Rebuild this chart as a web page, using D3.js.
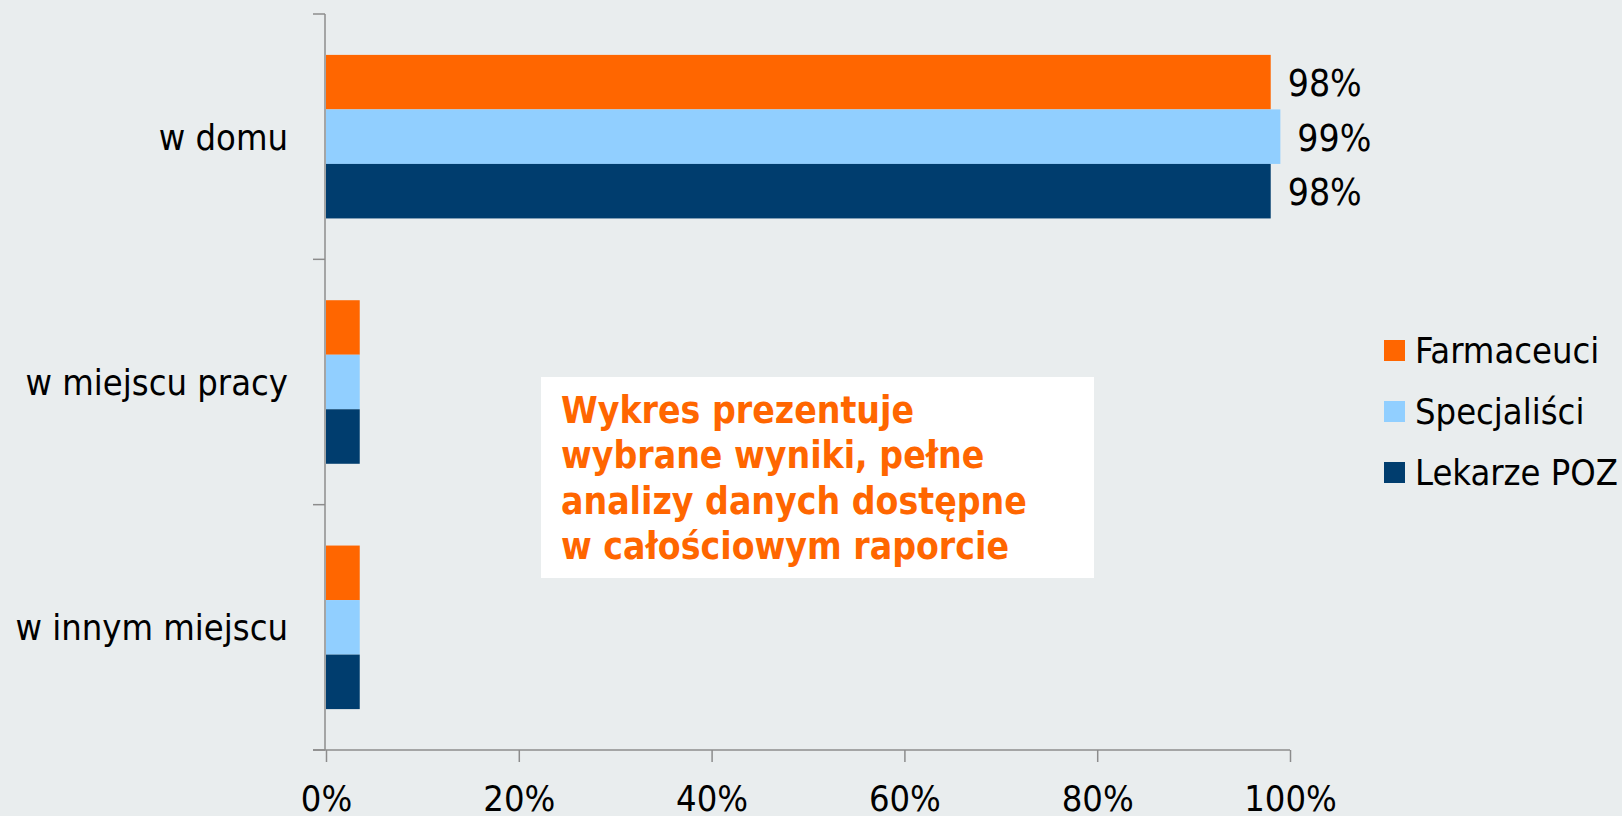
<!DOCTYPE html>
<html><head><meta charset="utf-8">
<script src="https://cdn.jsdelivr.net/npm/d3@7"></script>
<style>
body{margin:0;background:#e9edee}
svg{display:block}
</style>
</head><body>
<svg id="chart" width="1622" height="816"></svg>
<script>
// ---- data ----
const categories = ["w domu", "w miejscu pracy", "w innym miejscu"];
const seriesNames = ["Farmaceuci", "Specjaliści", "Lekarze POZ"];
const farmaceuci = [98, 3.5, 3.5];
const specjalisci = [99, 3.5, 3.5];
const lekarzePOZ = [98, 3.5, 3.5];
const labelledCategories = ["w domu"];
const xTickValues = [0, 20, 40, 60, 80, 100];
const noteLines = ["Wykres prezentuje", "wybrane wyniki, pełne", "analizy danych dostępne", "w całościowym raporcie"];
const seriesColors = ["#ff6600", "#91cfff", "#003d6e"];

const seriesValues = [farmaceuci, specjalisci, lekarzePOZ];
const rows = [];
categories.forEach((c, ci) => seriesNames.forEach((s, si) => rows.push({cat: c, series: s, value: seriesValues[si][ci], si})));

const FONT = "'DejaVu Sans Condensed','DejaVu Sans',sans-serif";
const FS = 36;
const svg = d3.select("#chart");
svg.append("rect").attr("width", 1622).attr("height", 816).attr("fill", "#e9edee");

const x = d3.scaleLinear().domain([0, 100]).range([326, 1290]);
const y0 = d3.scaleBand().domain(categories).range([14, 750]).padding(0);
const y1 = d3.scaleBand().domain(seriesNames).range([0, y0.bandwidth()]).paddingInner(0).paddingOuter(0.75);
const color = d3.scaleOrdinal().domain(seriesNames).range(seriesColors);
const axisColor = "#8c8c8c";

// bars
svg.append("g").selectAll("rect").data(rows).join("rect")
  .attr("x", x(0))
  .attr("y", d => y0(d.cat) + y1(d.series))
  .attr("width", d => x(d.value) - x(0))
  .attr("height", y1.bandwidth())
  .attr("fill", d => color(d.series));

// value labels
svg.append("g").selectAll("text").data(rows.filter(d => labelledCategories.includes(d.cat))).join("text")
  .attr("x", d => x(d.value) + 17)
  .attr("y", d => y0(d.cat) + y1(d.series) + y1.bandwidth() / 2 + 14)
  .attr("font-family", FONT).attr("font-size", 37).attr("fill", "#000")
  .text(d => d.value + "%");

// y axis (ticks at band boundaries)
const yAxis = svg.append("g");
yAxis.append("line").attr("x1", 325).attr("x2", 325).attr("y1", 14).attr("y2", 750)
  .attr("stroke", axisColor).attr("stroke-width", 1.5);
const bounds = categories.map(c => y0(c)).concat([y0.range()[1]]);
yAxis.selectAll("line.t").data(bounds).join("line").attr("class", "t")
  .attr("x1", 313).attr("x2", 325).attr("y1", d => d).attr("y2", d => d)
  .attr("stroke", axisColor).attr("stroke-width", 1.5);
yAxis.selectAll("text").data(categories).join("text")
  .attr("x", 288).attr("y", d => y0(d) + y0.bandwidth() / 2 + 13)
  .attr("text-anchor", "end")
  .attr("font-family", FONT).attr("font-size", FS).attr("fill", "#000")
  .text(d => d);

// x axis
const xAxis = svg.append("g").attr("transform", "translate(0,750)")
  .call(d3.axisBottom(x).tickValues(xTickValues).tickSize(12).tickSizeOuter(0).tickPadding(23).tickFormat(d => d + "%"));
xAxis.select(".domain").attr("stroke", axisColor).attr("stroke-width", 1.5).attr("d", "M313,0H1290");
xAxis.selectAll(".tick line").attr("stroke", axisColor).attr("stroke-width", 1.5);
xAxis.selectAll(".tick text").attr("font-family", FONT).attr("font-size", FS).attr("fill", "#000").attr("dy", "0.73em");

// legend
const legend = svg.append("g").selectAll("g").data(seriesNames).join("g")
  .attr("transform", (d, i) => `translate(1384,${340 + i * 61})`);
legend.append("rect").attr("width", 21).attr("height", 21).attr("fill", d => color(d));
legend.append("text").attr("x", 31).attr("y", 23)
  .attr("font-family", FONT).attr("font-size", FS).attr("fill", "#000")
  .text(d => d);

// note box
const note = svg.append("g");
note.append("rect").attr("x", 541).attr("y", 377).attr("width", 553).attr("height", 201).attr("fill", "#fff");
note.selectAll("text").data(noteLines).join("text")
  .attr("x", 561).attr("y", (d, i) => 423 + i * 45.3)
  .attr("font-family", FONT).attr("font-weight", "bold").attr("font-size", 37).attr("fill", "#ff6600")
  .text(d => d);
</script>
</body></html>
